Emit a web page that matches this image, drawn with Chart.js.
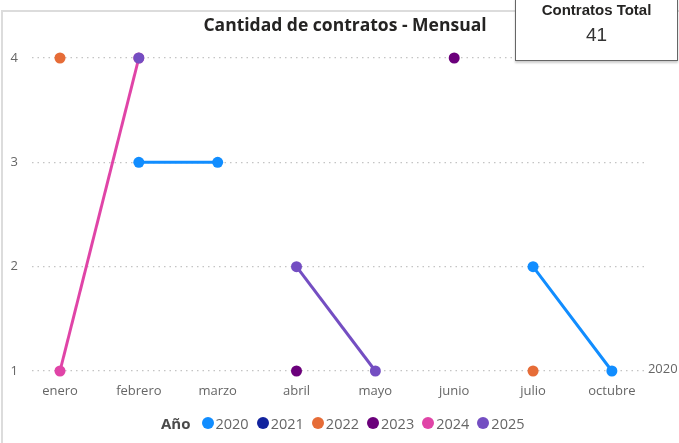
<!DOCTYPE html>
<html>
<head>
<meta charset="utf-8">
<script src="https://cdn.jsdelivr.net/npm/chart.js@4"></script>
<style>
  html, body { margin: 0; padding: 0; background: #fff; }
  body { width: 679px; height: 443px; position: relative; overflow: hidden; font-family: "Open Sans", sans-serif; }
  #frame { position: absolute; left: 1px; top: 10px; width: 700px; height: 460px; border-top: 2px solid #dcdcdc; border-left: 2px solid #dcdcdc; }
  canvas { position: absolute; left: 0; top: 0; }
  #title { position: absolute; left: 0; width: 690px; top: 12px; text-align: center; font-weight: bold; font-size: 17.5px; color: #252423; }
  #card { position: absolute; left: 515px; top: -2px; width: 161px; height: 61px; border: 1px solid #666; background: #fff; box-shadow: 0 2px 2px rgba(0,0,0,0.2); text-align: center; }
  #card .h { margin-top: 2px; font-family: "Liberation Sans", Arial, sans-serif; font-weight: bold; font-size: 15px; color: #252423; }
  #card .v { margin-top: 6px; font-family: "Liberation Sans", Arial, sans-serif; font-size: 19px; color: #333; }
  #legend { position: absolute; left: 161px; top: 413px; display: flex; align-items: center; font-size: 14.5px; color: #666; white-space: nowrap; }
  #legend b { color: #4a4a4a; margin-right: 11px; font-size: 15px; }
  #legend .dot { display: inline-block; width: 12px; height: 12px; border-radius: 50%; margin-right: 2px; }
  #legend .item { display: flex; align-items: center; margin-right: 8px; }
</style>
</head>
<body>
<div id="frame"></div>
<canvas id="c" width="679" height="443"></canvas>
<div id="title">Cantidad de contratos - Mensual</div>
<div id="card"><div class="h">Contratos Total</div><div class="v">41</div></div>
<div id="legend"><b>Año</b></div>
<script>
const meses = ["enero", "febrero", "marzo", "abril", "mayo", "junio", "julio", "octubre"];
const anios = ["2020", "2021", "2022", "2023", "2024", "2025"];
const colores = ["#118DFF", "#12239E", "#E66C37", "#6B007B", "#E044A7", "#744EC2"];
const v2020 = [null, 3, 3, null, null, null, 2, 1];
const v2021 = [null, null, null, null, null, null, null, null];
const v2022 = [4, null, null, null, null, null, 1, null];
const v2023 = [null, null, null, 1, null, 4, null, null];
const v2024 = [1, 4, null, null, null, null, null, null];
const v2025 = [null, 4, null, 2, 1, null, null, null];
const valores = [v2020, v2021, v2022, v2023, v2024, v2025];
const yTicks = [1, 2, 3, 4];

// leyenda en html
const legend = document.getElementById("legend");
anios.forEach((a, i) => {
  let it = document.createElement("span");
  it.className = "item";
  it.innerHTML = `<span class="dot" style="background:${colores[i]}"></span>${a}`;
  legend.appendChild(it);
});

const etiquetaFinal = {
  id: "etiquetaFinal",
  afterDatasetsDraw(chart) {
    const x = chart.scales.x, y = chart.scales.y;
    const last = v2020.length - 1;
    const ctx = chart.ctx;
    ctx.save();
    ctx.font = "13px 'Open Sans'";
    ctx.fillStyle = "#666";
    ctx.textBaseline = "middle";
    ctx.fillText(anios[0], x.getPixelForValue(last) + 36, y.getPixelForValue(v2020[last]) - 2);
    ctx.restore();
  }
};

new Chart(document.getElementById("c"), {
  type: "line",
  data: {
    datasets: anios.map((a, i) => ({
      label: a,
      data: valores[i].map((v, j) => ({ x: j, y: v })),
      borderColor: colores[i],
      backgroundColor: colores[i],
      pointBackgroundColor: colores[i],
      borderWidth: 3,
      pointRadius: 5.5,
      pointBorderWidth: 0,
      spanGaps: false,
      clip: false,
      order: -i,
    })),
  },
  options: {
    responsive: false,
    animation: false,
    layout: { padding: { top: 58, right: 34, bottom: 22, left: 0 } },
    plugins: { legend: { display: false }, tooltip: { enabled: false } },
    scales: {
      x: {
        type: "linear",
        min: -0.355,
        max: 7.42,
        afterBuildTicks: s => { s.ticks = meses.map((m, i) => ({ value: i })); },
        afterFit: s => { s.height = 50; },
        grid: { display: false },
        border: { display: false },
        ticks: {
          padding: 4,
          autoSkip: false,
          maxRotation: 0,
          color: "#666",
          font: { family: "Open Sans", size: 13 },
          callback: v => meses[v],
        },
      },
      y: {
        min: 1,
        max: 4,
        afterBuildTicks: s => { s.ticks = yTicks.map(v => ({ value: v })); },
        afterFit: s => { s.width = 32; },
        border: { display: false, dash: [1.5, 4] },
        grid: { color: "#c4c4c4", lineWidth: 1.2, drawTicks: false },
        ticks: {
          padding: 14,
          color: "#666",
          font: { family: "Open Sans", size: 13 },
        },
      },
    },
  },
  plugins: [etiquetaFinal],
});
</script>
</body>
</html>
